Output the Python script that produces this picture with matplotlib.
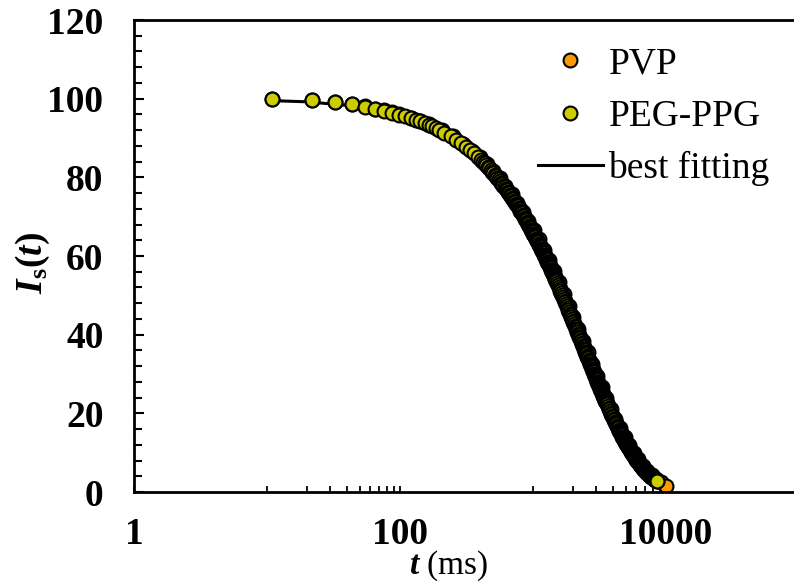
import matplotlib
matplotlib.use("Agg")
import matplotlib.pyplot as plt
from matplotlib.ticker import FixedLocator, NullFormatter

plt.rcParams['font.family'] = ['Liberation Serif', 'DejaVu Serif']
plt.rcParams['mathtext.fontset'] = 'custom'
plt.rcParams['mathtext.rm'] = 'Liberation Serif'
plt.rcParams['mathtext.it'] = 'Liberation Serif:italic'
plt.rcParams['mathtext.bf'] = 'Liberation Serif:bold'
plt.rcParams['mathtext.bfit'] = 'Liberation Serif:italic:bold'

# PEG-PPG: time (ms) and scattered intensity
peg_t = [10.9, 21.8, 32.7, 43.6, 54.5, 65.4, 76.3, 87.2, 98.1, 109,
         120, 131, 142, 153, 164, 174, 185, 196,
         216, 240, 264, 288, 312, 336, 360, 384,
         408, 420, 432, 444, 456, 468, 480, 492, 504, 516,
         528, 540, 552, 564, 576, 588, 600, 612, 624, 636,
         648, 660, 672, 684, 696, 708, 720, 732, 744, 756,
         768, 780, 792, 804, 816, 828, 840, 852, 864, 876,
         888, 900, 912, 924, 936, 948, 960, 972, 984, 996,
         1008, 1020, 1032, 1044, 1056, 1068, 1080, 1092, 1104, 1116,
         1128, 1140, 1152, 1164, 1176, 1188, 1200, 1212, 1224, 1236,
         1248, 1260, 1272, 1284, 1296, 1308, 1320, 1332, 1344, 1356,
         1368, 1380, 1392, 1404, 1416, 1428, 1440, 1452, 1464, 1476,
         1488, 1500, 1512,
         1536, 1560, 1584, 1608, 1632, 1656, 1680, 1704, 1728, 1752,
         1776, 1800, 1824, 1848, 1872, 1896, 1920, 1944, 1968, 1992,
         2016, 2040, 2064, 2088, 2112, 2136, 2160, 2184, 2208, 2232,
         2256, 2280, 2304, 2328, 2352, 2376, 2400,
         2424, 2448, 2472, 2496, 2520, 2544, 2568, 2592, 2616, 2640,
         2664, 2688, 2712, 2736, 2760, 2784, 2808, 2832, 2856, 2880,
         2904, 2928, 2952, 2976, 3000, 3024, 3048, 3072, 3096, 3120,
         3144, 3168, 3192, 3216, 3240, 3264, 3288, 3312, 3336, 3360,
         3384, 3408, 3432, 3456, 3480, 3504, 3528, 3552, 3576, 3600,
         3648, 3696, 3744, 3792, 3840,
         3888, 3936, 3984, 4032, 4080, 4128, 4176, 4224, 4272, 4320,
         4368, 4416, 4464, 4512, 4560, 4608, 4656, 4704, 4752, 4800,
         4848, 4896, 4944, 4992, 5040, 5088, 5136, 5184, 5232, 5280,
         5328, 5376, 5424, 5472, 5520, 5568, 5616, 5664, 5712, 5760,
         5808, 5856, 5904, 5952, 6000, 6048, 6096, 6144, 6192, 6240,
         6288, 6336, 6384, 6432, 6480, 6528, 6576, 6624, 6672, 6720,
         6768, 6816, 6864, 6912, 6960, 7008, 7056, 7104, 7152, 7200,
         7248, 7296, 7344, 7392, 7440, 7488, 7536, 7584, 7632, 7680,
         7728, 7776, 7824, 7872, 7920, 7968, 8016, 8064, 8112, 8160,
         8208, 8256, 8304, 8352, 8400, 8448, 8496, 8544]
peg_I = [100.0, 99.6, 99.1, 98.6, 98.0, 97.4, 96.9, 96.4, 95.9, 95.5,
         95.0, 94.6, 94.2, 93.8, 93.3, 93.0, 92.6, 92.1,
         91.39, 90.48, 89.58, 88.69, 87.81, 86.94, 86.07, 85.21,
         84.37, 83.95, 83.53, 83.11, 82.69, 82.28, 81.87, 81.46, 81.06, 80.66,
         80.25, 79.85, 79.45, 79.05, 78.66, 78.27, 77.88, 77.49, 77.10, 76.72,
         76.34, 75.96, 75.58, 75.20, 74.83, 74.46, 74.08, 73.71, 73.34, 72.97,
         72.61, 72.25, 71.89, 71.53, 71.18, 70.82, 70.47, 70.12, 69.77, 69.42,
         69.07, 68.73, 68.39, 68.05, 67.71, 67.37, 67.03, 66.70, 66.36, 66.03,
         65.70, 65.37, 65.05, 64.73, 64.40, 64.08, 63.76, 63.44, 63.13, 62.81,
         62.50, 62.19, 61.88, 61.57, 61.26, 60.95, 60.65, 60.35, 60.05, 59.75,
         59.45, 59.15, 58.86, 58.57, 58.27, 57.98, 57.70, 57.41, 57.12, 56.84,
         56.55, 56.27, 55.99, 55.71, 55.43, 55.15, 54.88, 54.61, 54.33, 54.06,
         53.79, 53.52, 53.26,
         52.73, 52.20, 51.68, 51.17, 50.66, 50.16, 49.66, 49.16, 48.68, 48.19,
         47.71, 47.24, 46.77, 46.30, 45.84, 45.38, 44.93, 44.49, 44.04, 43.60,
         43.17, 42.74, 42.32, 41.89, 41.48, 41.07, 40.66, 40.25, 39.85, 39.46,
         39.06, 38.67, 38.29, 37.91, 37.53, 37.16, 36.79,
         36.42, 36.06, 35.70, 35.35, 35.00, 34.65, 34.31, 33.96, 33.62, 33.29,
         32.96, 32.63, 32.31, 31.98, 31.66, 31.35, 31.04, 30.73, 30.42, 30.12,
         29.82, 29.52, 29.23, 28.94, 28.65, 28.37, 28.09, 27.80, 27.52, 27.25,
         26.98, 26.71, 26.44, 26.18, 25.92, 25.67, 25.41, 25.16, 24.91, 24.66,
         24.41, 24.17, 23.93, 23.69, 23.45, 23.22, 22.99, 22.76, 22.53, 22.31,
         21.87, 21.44, 21.01, 20.60, 20.19,
         19.79, 19.40, 19.01, 18.64, 18.27, 17.91, 17.55, 17.20, 16.86, 16.53,
         16.20, 15.88, 15.57, 15.26, 14.96, 14.66, 14.37, 14.09, 13.81, 13.53,
         13.27, 13.00, 12.75, 12.49, 12.25, 12.00, 11.77, 11.53, 11.30, 11.08,
         10.86, 10.65, 10.43, 10.23, 10.03, 9.83, 9.63, 9.44, 9.26, 9.07,
         8.89, 8.72, 8.54, 8.37, 8.21, 8.05, 7.89, 7.73, 7.58, 7.43,
         7.28, 7.14, 6.99, 6.86, 6.72, 6.59, 6.46, 6.33, 6.20, 6.08,
         5.96, 5.84, 5.73, 5.61, 5.50, 5.39, 5.29, 5.18, 5.08, 4.98,
         4.88, 4.78, 4.69, 4.60, 4.50, 4.42, 4.33, 4.24, 4.16, 4.08,
         4.00, 3.92, 3.84, 3.76, 3.69, 3.62, 3.54, 3.47, 3.40, 3.34,
         3.27, 3.21, 3.14, 3.08, 3.02, 2.96, 2.90, 2.84]

# PVP (mostly hidden under PEG-PPG)
pvp_t = [10.9, 21.8, 32.7, 43.6, 54.5, 65.4, 76.3, 87.2, 98.1, 120, 142, 164,
         207, 251, 300, 350, 400, 450, 500, 560, 620, 690, 760, 840, 920, 1010,
         1100, 1200, 1310, 1430, 1560, 1700, 1850, 2010, 2180, 2370, 2570, 2790,
         3030, 3280, 3550, 3850, 4170, 4510, 4880, 5280, 5710, 6180, 6690, 7240,
         7830, 8470, 9160, 10000]
pvp_I = [100.0, 99.6, 99.2, 98.7, 98.1, 97.5, 97.0, 96.5, 96.0, 95.2, 94.4, 93.6,
         92.0, 90.4, 88.6, 86.8, 85.1, 83.4, 81.7, 79.8, 77.9, 75.7, 73.6, 71.3, 69.0, 66.5,
         64.2, 61.6, 59.0, 56.2, 53.3, 50.4, 47.4, 44.5, 41.5, 38.5, 35.5, 32.5,
         29.5, 26.6, 23.9, 21.2, 18.6, 16.2, 14.0, 11.9, 10.0, 8.3, 6.7, 5.4,
         4.3, 3.3, 2.5, 1.4]

# best fitting curve
fit_t = [10.9, 20, 40, 70, 100, 150, 200, 300, 400, 550, 700, 900, 1100, 1300,
         1600, 2000, 2500, 3000, 3600, 4300, 5000, 6000, 7000, 8000, 9000]
fit_I = [99.5, 99.2, 98.3, 97.1, 95.9, 93.9, 92.0, 88.2, 84.6, 79.5, 74.7, 68.7,
         63.2, 58.2, 51.3, 43.5, 35.3, 28.7, 22.3, 16.7, 12.5, 8.2, 5.4, 3.6, 2.4]

W, H = 794, 584
fig = plt.figure(figsize=(W / 100, H / 100), dpi=100)
# the axis runs to 1e6 and is cut off by the right edge of the figure
ax = fig.add_axes([134 / W, (H - 492) / H, (932 - 134) / W, (492 - 20) / H])

ax.plot(fit_t, fit_I, color='black', lw=2.2, zorder=1, label='best fitting')
ax.plot(pvp_t, pvp_I, 'o', ms=10, mfc='#FF9900', mec='black', mew=1.5, zorder=2, label='PVP')
ax.plot(peg_t, peg_I, 'o', ms=10, mfc='#CCCC00', mec='black', mew=1.5, zorder=3, label='PEG-PPG')

ax.set_xscale('log')
ax.set_xlim(1, 1e6)
ax.set_ylim(0, 120)
ax.xaxis.set_major_locator(FixedLocator([1, 100, 10000, 1000000]))
ax.set_xticklabels(['1', '100', '10000', ''])
minors = [k * 10 ** e for e in (1, 3, 5) for k in range(1, 10)]
ax.xaxis.set_minor_locator(FixedLocator(minors))
ax.xaxis.set_minor_formatter(NullFormatter())
ax.yaxis.set_major_locator(FixedLocator(list(range(0, 121, 20))))
ax.yaxis.set_minor_locator(FixedLocator(list(range(0, 121, 4))))

for s in ['left', 'bottom', 'top']:
    ax.spines[s].set_linewidth(2.0)
ax.spines['right'].set_visible(False)

ax.tick_params(axis='y', which='major', direction='in', length=7.5, width=1.5,
               labelsize=27, pad=22)
ax.tick_params(axis='y', which='minor', direction='in', length=6, width=1.5)
ax.tick_params(axis='x', which='both', direction='in', length=4.5, width=1.3,
               labelsize=27, pad=18)
for lab in ax.get_xticklabels() + ax.get_yticklabels():
    lab.set_fontweight('bold')

fig.text(33 / W, 1 - 263 / H, r'$\mathbfit{I}_{\mathbf{s}}\mathbf{(}\mathbfit{t}\mathbf{)}$',
         rotation=90, ha='center', va='center', fontsize=27)
fig.text(449 / W, 1 - 566 / H, r'$\mathbfit{t}$ (ms)', ha='center', va='center', fontsize=24)

h, l = ax.get_legend_handles_labels()
order = [1, 2, 0]
ax.legend([h[i] for i in order], [l[i] for i in order], loc='upper left',
          bbox_to_anchor=(538 / W, 1 - 47 / H), bbox_transform=fig.transFigure,
          frameon=False, fontsize=27, handlelength=1.72, handletextpad=0.16,
          labelspacing=0.47, borderpad=0, borderaxespad=0)

fig.savefig('out.png', dpi=100)
